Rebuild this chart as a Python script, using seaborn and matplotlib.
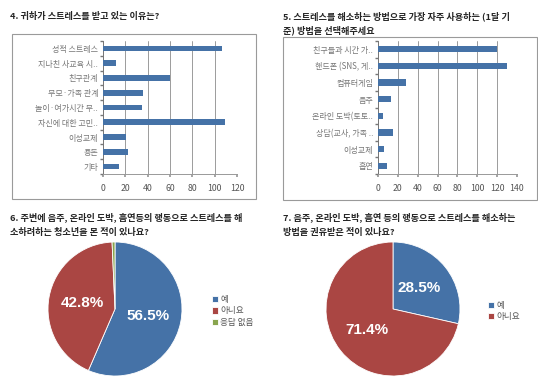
import matplotlib
matplotlib.use("Agg")
import matplotlib.pyplot as plt
import seaborn as sns
import pandas as pd
import numpy as np
from matplotlib.patches import Rectangle

# Q4 - reasons for stress
reasons = ["성적 스트레스", "지나친 사교육 시..", "친구관계", "부모·가족 관계",
           "놀이·여가시간 부..", "자신에 대한 고민..", "이성교제", "용돈", "기타"]
reason_counts = [107, 12, 60, 36, 35, 109, 21, 22, 14]

# Q5 - ways to relieve stress
methods = ["친구들과 시간 가..", "핸드폰 (SNS, 게..", "컴퓨터게임", "음주",
           "온라인 도박(토토..", "상담(교사, 가족 ..", "이성교제", "흡연"]
method_counts = [120, 130, 28, 13, 5, 15, 6, 9]

# Q6 / Q7 pies
q6_labels = ["예", "아니요", "응답 없음"]
q6_pct = [56.5, 42.8, 0.7]
q7_labels = ["예", "아니요"]
q7_pct = [28.5, 71.4]

BLUE, RED, GREEN = "#4572A7", "#AA4643", "#89A54E"

sns.set_theme(style="white")
plt.rcParams['font.family'] = ['Noto Sans CJK KR', 'DejaVu Sans']

fig = plt.figure(figsize=(5.38, 3.83), dpi=100)
W, H = 538, 383


def px_axes(x0, y0, x1, y1):
    return fig.add_axes([x0 / W, 1 - y1 / H, (x1 - x0) / W, (y1 - y0) / H])


def frame_box(x0, y0, x1, y1):
    fig.patches.append(Rectangle((x0 / W, 1 - y1 / H), (x1 - x0) / W, (y1 - y0) / H,
                                 transform=fig.transFigure, fill=False,
                                 edgecolor="#9a9a9a", lw=0.8))


def bar_panel(ax, cats, vals, xmax):
    df = pd.DataFrame({"cat": cats, "val": vals})
    sns.barplot(data=df, x="val", y="cat", ax=ax, color=BLUE, width=0.38,
                saturation=1, edgecolor="none", zorder=3)
    ax.set_xlim(0, xmax)
    ax.set_xticks(range(0, xmax + 1, 20))
    ax.set_xlabel("")
    ax.set_ylabel("")
    ax.grid(axis="x", color="#8c8c8c", lw=0.6, zorder=0)
    for s in ["top", "right"]:
        ax.spines[s].set_visible(False)
    ax.spines["left"].set_color("#777777")
    ax.spines["bottom"].set_color("#999999")
    ax.spines["left"].set_linewidth(0.7)
    ax.spines["bottom"].set_linewidth(0.7)
    # excel style: tick marks between categories
    ax.set_yticks(np.arange(len(cats) + 1) - 0.5, minor=True)
    ax.tick_params(axis="y", which="minor", length=2.5, color="#777777", left=True)
    ax.tick_params(axis="y", which="major", labelsize=5.8, labelcolor="#777777",
                   length=0, pad=3.5)
    ax.tick_params(axis="x", labelsize=6.3, labelcolor="#555555", length=2,
                   color="#999999", bottom=True, pad=5)


def title(x, y, s):
    fig.text(x / W, 1 - y / H, s, fontsize=6.6, fontweight="bold", va="center")


# Q4 bar chart
frame_box(12, 34, 256, 199)
ax4 = px_axes(103, 41, 237, 174)
bar_panel(ax4, reasons, reason_counts, 120)
title(10, 16, "4. 귀하가 스트레스를 받고 있는 이유는?")

# Q5 bar chart
frame_box(283, 37, 537, 200)
ax5 = px_axes(378, 41, 517, 174)
bar_panel(ax5, methods, method_counts, 140)
title(283, 16, "5. 스트레스를 해소하는 방법으로 가장 자주 사용하는 (1달 기")
title(283, 30, "준) 방법을 선택해주세요")


def pie_panel(ax, labels, pct, colors, legend_xy):
    texts = [f"{p:.1f}%" if p >= 5 else "" for p in pct]
    wedges, lbls = ax.pie(pct, labels=texts, labeldistance=0.5, colors=colors,
                          startangle=90, counterclock=False,
                          wedgeprops=dict(linewidth=0.6, edgecolor="white"))
    for t in lbls:
        t.set_color("white")
        t.set_fontsize(11)
        t.set_fontweight("bold")
        t.set_family(["Liberation Sans", "DejaVu Sans"])
        t.set_ha("center")
        t.set_va("center")
    ax.set_xlim(-1.0, 1.0)
    ax.set_ylim(-1.0, 1.0)
    ax.legend(wedges, labels, loc="center left", bbox_to_anchor=legend_xy,
              bbox_transform=fig.transFigure, frameon=False, fontsize=6.2,
              handlelength=0.7, handleheight=0.7, handletextpad=0.2,
              labelspacing=0.25, borderpad=0, labelcolor="#555555")


# Q6 pie
ax6 = px_axes(48, 242, 182, 376)
pie_panel(ax6, q6_labels, q6_pct, [BLUE, RED, GREEN], (208 / W, 1 - 311 / H))
title(10, 217, "6. 주변에 음주, 온라인 도박, 흡연등의 행동으로 스트레스를 해")
title(10, 232, "소하려하는 청소년을 본 적이 있나요?")

# Q7 pie
ax7 = px_axes(326, 242, 460, 376)
pie_panel(ax7, q7_labels, q7_pct, [BLUE, RED], (484 / W, 1 - 311 / H))
title(283, 217, "7. 음주, 온라인 도박, 흡연 등의 행동으로 스트레스를 해소하는")
title(283, 232, "방법을 권유받은 적이 있나요?")

fig.savefig("out.png", dpi=100)
